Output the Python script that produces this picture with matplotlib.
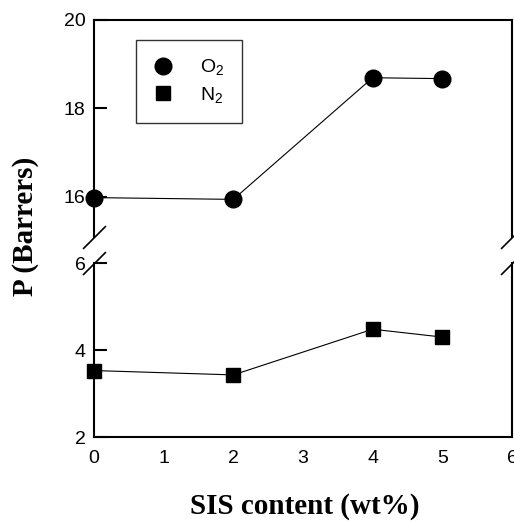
"""Permeability of O2 and N2 against SIS content, broken y axis."""

import matplotlib
matplotlib.use("Agg")
import matplotlib.pyplot as plt

sis = [0, 2, 4, 5]
p_o2 = [15.98, 15.94, 18.69, 18.67]
p_n2 = [3.53, 3.43, 4.48, 4.30]

x_ticks = [0, 1, 2, 3, 4, 5, 6]
top_ticks = [16, 18, 20]
bot_ticks = [2, 4, 6]

plt.rcParams["font.family"] = ["Liberation Sans", "DejaVu Sans"]
plt.rcParams["mathtext.fontset"] = "custom"
plt.rcParams["mathtext.rm"] = "Liberation Sans"

fig = plt.figure(figsize=(5.14, 5.21), dpi=100)
ax_top = fig.add_axes([0.183, 0.546, 0.813, 0.416])
ax_bot = fig.add_axes([0.183, 0.161, 0.813, 0.334])

for ax in (ax_top, ax_bot):
    ax.set_xlim(0, 6)
    for s in ax.spines.values():
        s.set_linewidth(1.5)
    ax.tick_params(direction="in", length=9.4, width=1.5, labelsize=14, pad=6)

ax_top.set_ylim(15.1, 20)
ax_bot.set_ylim(2, 6.0)
ax_top.spines["bottom"].set_visible(False)
ax_bot.spines["top"].set_visible(False)
ax_top.set_yticks(top_ticks)
ax_bot.set_yticks(bot_ticks)
ax_top.set_xticks([])
ax_bot.set_xticks(x_ticks)
ax_bot.tick_params(axis="x", pad=9)

# hide tick marks at the corners / break, keep labels
for ax in (ax_top, ax_bot):
    for t in ax.yaxis.get_major_ticks():
        if t.get_loc() in (20, 6):
            t.tick1line.set_visible(False)
for t in ax_bot.xaxis.get_major_ticks():
    if t.get_loc() in (0, 6):
        t.tick1line.set_visible(False)

ax_top.plot(sis, p_o2, color="black", lw=0.8, marker="o", ms=12,
            label=r"$\mathregular{O_2}$", clip_on=False, zorder=3)
ax_bot.plot(sis, p_n2, color="black", lw=0.8, marker="s", ms=10,
            label=r"$\mathregular{N_2}$", clip_on=False, zorder=3)

# break marks
kw = dict(marker=[(-1, -1), (1, 1)], markersize=16.5, linestyle="none",
          color="black", mec="black", mew=1.2, clip_on=False)
ax_top.plot([0, 1], [0, 0], transform=ax_top.transAxes, **kw)
ax_bot.plot([0, 1], [1, 1], transform=ax_bot.transAxes, **kw)

_, l1 = ax_top.get_legend_handles_labels()
_, l2 = ax_bot.get_legend_handles_labels()
leg = ax_top.legend([plt.Line2D([], [], ls="none", marker="o", ms=12, color="black"),
                     plt.Line2D([], [], ls="none", marker="s", ms=10, color="black")],
                    l1 + l2, loc="upper left", bbox_to_anchor=(0.1, 0.907),
                    fontsize=14, frameon=True, fancybox=False, edgecolor="black",
                    handlelength=1.0, handletextpad=1.4, borderpad=0.9,
                    labelspacing=0.4, borderaxespad=0)
leg.get_frame().set_linewidth(1.0)

fig.text(0.592, 0.027, "SIS content (wt%)", ha="center", va="center",
         family="Liberation Serif", fontweight="bold", fontsize=21)
fig.text(0.05, 0.566, "P (Barrers)", ha="center", va="center", rotation=90,
         family="Liberation Serif", fontweight="bold", fontsize=21)

fig.savefig("out.png", dpi=100)
